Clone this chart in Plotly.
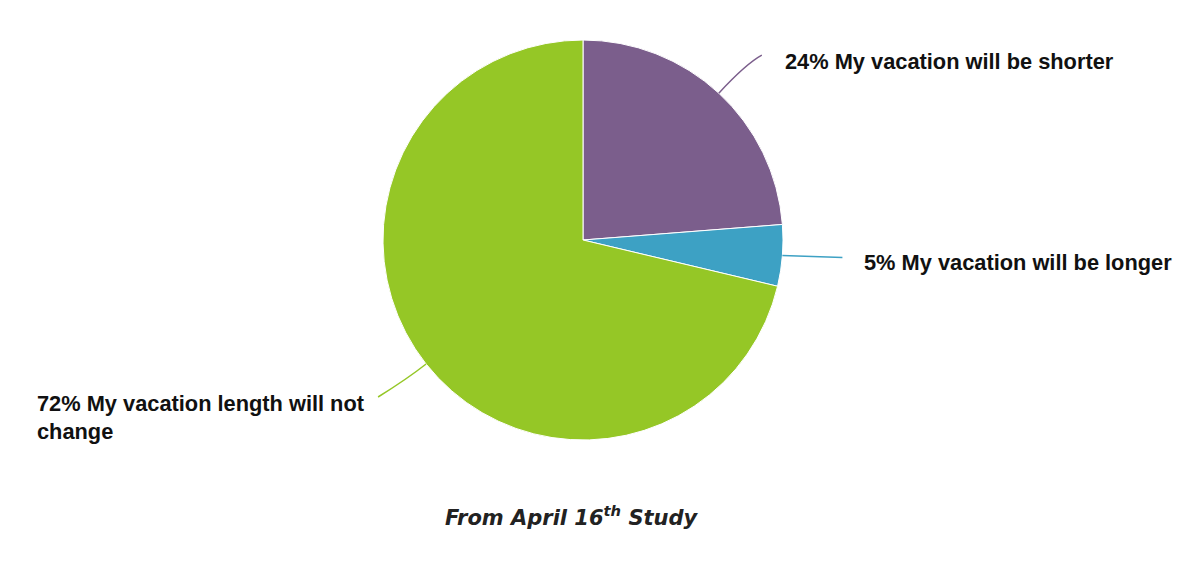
import math
import plotly.graph_objects as go

# ---- data ----
labels = ["My vacation will be shorter", "My vacation will be longer", "My vacation length will not change"]
values = [24, 5, 72]
label_texts = ["24% My vacation will be shorter", "5% My vacation will be longer",
               "72% My vacation length will not<br>change"]
colors = ["#7B5E8C", "#3DA1C4", "#95C726"]
caption = "From April 16<sup>th</sup> Study"

# ---- layout geometry (pixels, in the screenshot frame) ----
W, H = 1200, 566
OFF = 8  # page body margin
cx, cy, R = 583, 240, 200

def px(x):
    return (x - OFF) / W

def py(y):
    return 1 - (y - OFF) / H

fig = go.Figure()
fig.add_trace(go.Pie(
    labels=labels, values=values, sort=False, direction="clockwise", rotation=0,
    marker=dict(colors=colors, line=dict(color="white", width=1)),
    textinfo="none", hoverinfo="label+percent", showlegend=False,
    domain=dict(x=[px(cx - R), px(cx + R)], y=[py(cy + R), py(cy - R)]),
))

total = sum(values)
leader = [
    dict(ctrl=1.2, end=(43, -38), text=(21, 6)),
    dict(ctrl=None, end=(60, 2), text=(20, 5)),
    dict(ctrl=1.12, end=(-48, 33), text=(-343, 20)),
]
cum = 0
annotations = []
shapes = []
for i, v in enumerate(values):
    mid = (cum + v / 2) / total * 2 * math.pi
    cum += v
    sx, sy = cx + R * math.sin(mid), cy - R * math.cos(mid)
    ex, ey = sx + leader[i]["end"][0], sy + leader[i]["end"][1]
    k = leader[i]["ctrl"]
    if k is None:
        qx, qy = (sx + ex) / 2, (sy + ey) / 2
    else:
        qx, qy = cx + R * k * math.sin(mid), cy - R * k * math.cos(mid)
    shapes.append(dict(type="path", xref="paper", yref="paper",
                       path=f"M {px(sx)} {py(sy)} Q {px(qx)} {py(qy)} {px(ex)} {py(ey)}",
                       line=dict(color=colors[i], width=1.5)))
    tx = ex + leader[i]["text"][0]
    ty = ey + leader[i]["text"][1]
    annotations.append(dict(
        text=f"<b>{label_texts[i]}</b>", x=px(tx), y=py(ty), xref="paper", yref="paper",
        xanchor="left", yanchor="middle", showarrow=False, align="left",
        font=dict(family="Liberation Sans", size=21.8, color="#111111"),
    ))

annotations.append(dict(
    text=caption, x=px(572), y=py(516), xref="paper", yref="paper",
    xanchor="center", yanchor="middle", showarrow=False,
    font=dict(family="DejaVu Sans", size=21, color="#222222", style="italic", weight=700),
))

fig.update_layout(
    width=W, height=H, margin=dict(l=0, r=0, t=0, b=0),
    paper_bgcolor="white", plot_bgcolor="white",
    annotations=annotations, shapes=shapes,
)

fig.write_html("out.html")
